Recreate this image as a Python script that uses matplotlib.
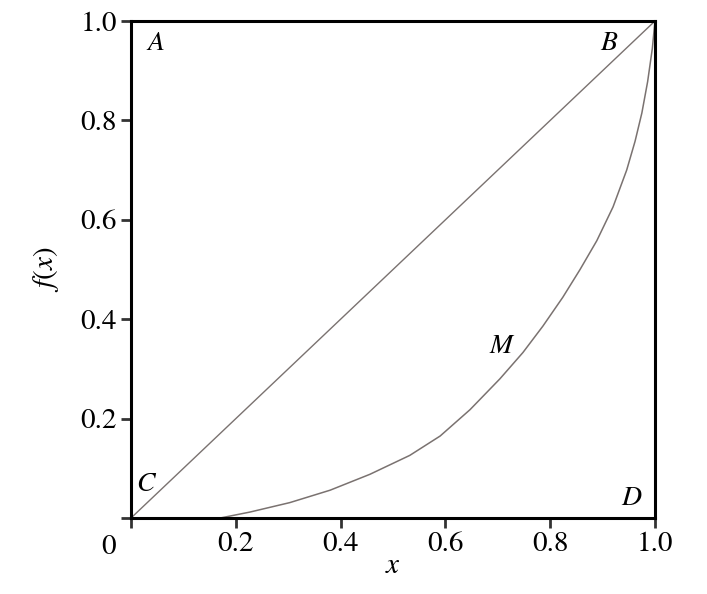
import matplotlib
matplotlib.use("Agg")
import matplotlib.pyplot as plt

plt.rcParams["font.family"] = ["STIXGeneral", "Liberation Serif", "DejaVu Serif"]
plt.rcParams["mathtext.fontset"] = "stix"

# diagonal CB (line of equality)
diag_x = [0.0, 1.0]
diag_y = [0.0, 1.0]

# curve M
curve_x = [0.170, 0.227, 0.303, 0.380, 0.456, 0.532, 0.590, 0.647, 0.704,
           0.748, 0.786, 0.824, 0.857, 0.889, 0.920, 0.946, 0.962, 0.975,
           0.986, 0.995, 1.000]
curve_y = [0.000, 0.012, 0.031, 0.056, 0.088, 0.126, 0.165, 0.218, 0.280,
           0.333, 0.386, 0.444, 0.500, 0.558, 0.626, 0.700, 0.758, 0.815,
           0.878, 0.945, 1.000]

# point labels
labels = ["A", "B", "C", "D", "M"]
label_x = [0.046, 0.912, 0.030, 0.956, 0.708]
label_y = [0.955, 0.955, 0.068, 0.040, 0.345]

xticks = [0.0, 0.2, 0.4, 0.6, 0.8, 1.0]
xtick_labels = ["", "0.2", "0.4", "0.6", "0.8", "1.0"]
yticks = [0.0, 0.2, 0.4, 0.6, 0.8, 1.0]
ytick_labels = ["", "0.2", "0.4", "0.6", "0.8", "1.0"]

fig = plt.figure(figsize=(7.07, 5.94), dpi=100)
ax = fig.add_axes([0.1853, 0.1279, 0.7411, 0.8367])

line_color = "#7a7270"
ax.plot(diag_x, diag_y, color=line_color, lw=1.0)
ax.plot(curve_x, curve_y, color=line_color, lw=1.1)

for lab, lx, ly in zip(labels, label_x, label_y):
    ax.text(lx, ly, f"${lab}$", fontsize=20, ha="center", va="center")

ax.set_xlim(0, 1)
ax.set_ylim(0, 1)
ax.set_xticks(xticks)
ax.set_xticklabels(xtick_labels)
ax.set_yticks(yticks)
ax.set_yticklabels(ytick_labels)
ax.tick_params(direction="out", length=7, width=2, labelsize=21, pad=3,
               color="#333333")
for sp in ax.spines.values():
    sp.set_linewidth(2.2)

# the lone "0" at the origin
ax.text(-0.042, -0.034, "0", fontsize=21, ha="center", va="top",
        clip_on=False)

ax.set_xlabel("$x$", fontsize=21, labelpad=-2)
ax.set_ylabel("$f(x)$", fontsize=21, labelpad=14)

fig.savefig("out.png", dpi=100)
